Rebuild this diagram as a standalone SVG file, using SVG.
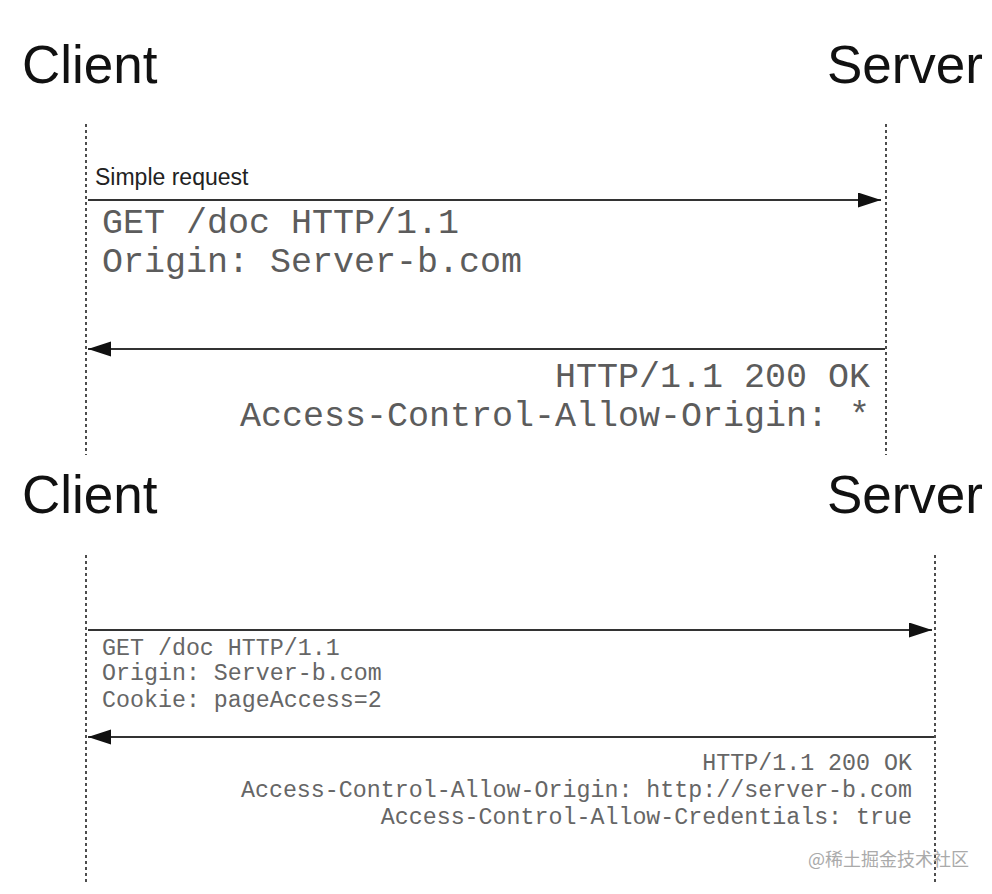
<svg xmlns="http://www.w3.org/2000/svg" width="992" height="894" viewBox="0 0 992 894">
<style>
.title{font-family:"Liberation Sans",Arial,sans-serif;font-size:53px;fill:#111}
.lbl{font-family:"Liberation Sans",Arial,sans-serif;font-size:23px;fill:#222}
.big{font-family:"Liberation Mono","Courier New",monospace;font-size:35px;fill:#5c5c5c}
.small{font-family:"Liberation Mono","Courier New",monospace;font-size:23.3px;fill:#666}
.life{stroke:#222;stroke-width:1.6;stroke-dasharray:3 3;fill:none}
.msg{stroke:#333;stroke-width:2.2;fill:none}
.wm{font-family:"Noto Sans CJK SC","Noto Sans",sans-serif;font-size:18px;fill:#aaa}
</style>
<defs>
<marker id="ah" markerWidth="24" markerHeight="16" refX="23" refY="7.5" orient="auto" markerUnits="userSpaceOnUse">
<path d="M0,0 L23,7.5 L0,15 z" fill="#111"/>
</marker>
</defs>
<rect width="992" height="894" fill="#fff"/>
<g id="client1"><text class="title" x="22" y="83">Client</text><line class="life" x1="86" y1="124" x2="86" y2="455"/></g>
<g id="server1"><text class="title" x="983" y="83" text-anchor="end">Server</text><line class="life" x1="886" y1="124" x2="886" y2="455"/></g>
<g id="client2"><text class="title" x="22" y="513">Client</text><line class="life" x1="86" y1="555" x2="86" y2="885"/></g>
<g id="server2"><text class="title" x="983" y="513" text-anchor="end">Server</text><line class="life" x1="935" y1="555" x2="935" y2="885"/></g>
<g id="connectors">
<line class="msg" x1="88" y1="200" x2="881" y2="200" marker-end="url(#ah)"/>
<line class="msg" x1="885" y1="349" x2="88" y2="349" marker-end="url(#ah)"/>
<line class="msg" x1="88" y1="630" x2="932" y2="630" marker-end="url(#ah)"/>
<line class="msg" x1="934" y1="737" x2="88" y2="737" marker-end="url(#ah)"/>
</g>
<g id="labels">
<text class="lbl" x="95" y="185">Simple request</text>
<text class="big" x="102" y="233">GET /doc HTTP/1.1</text>
<text class="big" x="102" y="272">Origin: Server-b.com</text>
<text class="big" x="870" y="387" text-anchor="end">HTTP/1.1 200 OK</text>
<text class="big" x="870" y="426" text-anchor="end">Access-Control-Allow-Origin: *</text>
<text class="small" x="102" y="655">GET /doc HTTP/1.1</text>
<text class="small" x="102" y="680">Origin: Server-b.com</text>
<text class="small" x="102" y="707">Cookie: pageAccess=2</text>
<text class="small" x="912" y="770" text-anchor="end">HTTP/1.1 200 OK</text>
<text class="small" x="912" y="797" text-anchor="end">Access-Control-Allow-Origin: http://server-b.com</text>
<text class="small" x="912" y="824" text-anchor="end">Access-Control-Allow-Credentials: true</text>
<text class="wm" x="808" y="866">@稀土掘金技术社区</text>
</g>
</svg>
